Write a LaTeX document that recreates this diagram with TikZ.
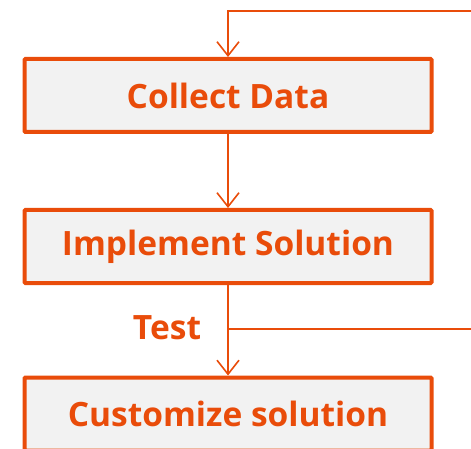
\documentclass[tikz,border=0pt]{standalone}
\usepackage{fontspec}
\setmainfont{Open Sans}
\usepackage{tikz}
\usetikzlibrary{arrows.meta}
\usetikzlibrary{positioning}
\definecolor{flowred}{RGB}{233,76,10}
\definecolor{boxgray}{RGB}{242,242,242}

\begin{document}
\begin{tikzpicture}[x=1pt, y=-1pt,
  stepbox/.style={draw=flowred, line width=4pt, fill=boxgray, rounded corners=1pt, minimum width=407pt, minimum height=73pt, inner sep=0pt, text=flowred, font=\fontsize{33.5}{40}\selectfont\bfseries},
  flow/.style={draw=flowred, line width=1.6pt, -{Straight Barb[length=14pt, width=22pt, line width=1.6pt]}},
  plain/.style={draw=flowred, line width=1.6pt}]
\useasboundingbox (0,0) rectangle (471,449);
\node[stepbox] (G1Collect) at (228,95.5) {Collect Data};
\node[stepbox] (G1Implement) at (228,246.5) {Implement Solution};
\node[stepbox] (G1Customize) at (228,414) {Customize solution};
\node[text=flowred, font=\fontsize{33.5}{40}\selectfont\bfseries] (G1Test) at (167,328) {Test};
\coordinate (G1Top) at (471,11);
\coordinate (G1Back) at (471,329);
\coordinate (G1Join) at (229,329);
\draw[flow] (G1Top) -| (G1Collect.north);
\draw[flow] (G1Collect) -- (G1Implement);
\draw[flow] (G1Implement) -- (G1Customize);
\draw[plain] (G1Back) -- (G1Join);
\end{tikzpicture}
\end{document}
